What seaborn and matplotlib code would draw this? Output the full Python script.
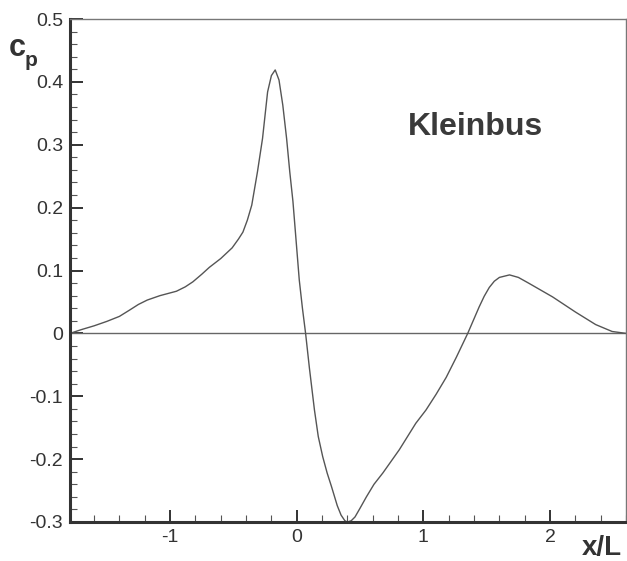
import numpy as np
import matplotlib
matplotlib.use("Agg")
import matplotlib.pyplot as plt
import seaborn as sns
import pandas as pd

# pressure coefficient along the vehicle
x_over_L = [-1.79, -1.70, -1.60, -1.50, -1.40, -1.32, -1.25, -1.18, -1.08, -0.95,
            -0.88, -0.82, -0.75, -0.69, -0.60, -0.51, -0.46, -0.425, -0.39, -0.355,
            -0.31, -0.27, -0.23, -0.20, -0.17, -0.14, -0.11, -0.08, -0.055, -0.03,
            0.00, 0.02, 0.045, 0.07, 0.10, 0.14, 0.17, 0.205, 0.24, 0.275,
            0.32, 0.35, 0.38, 0.40, 0.43, 0.46, 0.50, 0.55, 0.61, 0.68, 0.81,
            0.94, 1.02, 1.10, 1.18, 1.26, 1.35, 1.44, 1.48, 1.52, 1.56, 1.60, 1.68,
            1.75, 1.83, 2.02, 2.20, 2.36, 2.49, 2.60]
cp = [0.000, 0.006, 0.012, 0.019, 0.027, 0.037, 0.046, 0.053, 0.060, 0.067,
      0.074, 0.082, 0.094, 0.105, 0.119, 0.136, 0.150, 0.161, 0.180, 0.204,
      0.257, 0.310, 0.384, 0.410, 0.419, 0.403, 0.363, 0.310, 0.257, 0.210,
      0.135, 0.085, 0.040, 0.000, -0.055, -0.122, -0.164, -0.196, -0.222, -0.244,
      -0.274, -0.289, -0.298, -0.300, -0.298, -0.292, -0.278, -0.260, -0.240, -0.222, -0.185,
      -0.143, -0.122, -0.097, -0.070, -0.038, 0.000, 0.042, 0.059, 0.073, 0.083, 0.089, 0.093,
      0.089, 0.080, 0.058, 0.034, 0.014, 0.003, 0.000]

x_ticks = [-1, 0, 1, 2]
y_ticks = [-0.3, -0.2, -0.1, 0, 0.1, 0.2, 0.3, 0.4, 0.5]
y_labels = ["-0.3", "-0.2", "-0.1", "0", "0.1", "0.2", "0.3", "0.4", "0.5"]

df = pd.DataFrame({"x": x_over_L, "cp": cp})

sns.set_style("ticks")
plt.rcParams["font.family"] = ["Liberation Sans", "DejaVu Sans"]

fig = plt.figure(figsize=(6.27, 5.61), dpi=100)
ax = fig.add_axes([70 / 627, 39 / 561, 557 / 627 - 0.0015, 503 / 561])

ax.axhline(0, color="#666666", lw=1.0, zorder=1)
sns.lineplot(data=df, x="x", y="cp", ax=ax, color="#555555", lw=1.0, sort=False)

ax.set_xlim(-1.79, 2.6)
ax.set_ylim(-0.3, 0.5)
ax.set_xticks(x_ticks)
ax.set_xticklabels([str(t) for t in x_ticks])
ax.set_yticks(y_ticks)
ax.set_yticklabels(y_labels)
ax.set_xticks(np.arange(-1.6, 2.61, 0.2), minor=True)
ax.set_yticks(np.arange(-0.3, 0.501, 0.02), minor=True)

ax.tick_params(which="major", direction="in", length=9, width=1.4,
               labelsize=14, labelcolor="#333333", color="#333333", pad=5)
ax.tick_params(which="minor", direction="in", length=5, width=0.8, color="#555555")
ax.set_xlabel("")
ax.set_ylabel("")

for side in ["left", "bottom"]:
    ax.spines[side].set_linewidth(2.2)
    ax.spines[side].set_color("#333333")
for side in ["top", "right"]:
    ax.spines[side].set_visible(True)
    ax.spines[side].set_linewidth(1.0)
    ax.spines[side].set_color("#777777")

ax.text(0.88, 0.316, "Kleinbus", fontsize=23, fontweight="bold",
        color="#3a3a3a", va="baseline", ha="left")

# axis titles placed like the original
fig.text(9 / 627, 1 - 56 / 561, "c", fontsize=22, fontweight="bold",
         color="#333333", va="baseline", ha="left")
fig.text(25 / 627, 1 - 66 / 561, "p", fontsize=15, fontweight="bold",
         color="#333333", va="baseline", ha="left")
fig.text(622 / 627, 1 - 555 / 561, "x/L", fontsize=20, fontweight="bold",
         color="#333333", va="baseline", ha="right")

fig.savefig("out.png", dpi=100)
